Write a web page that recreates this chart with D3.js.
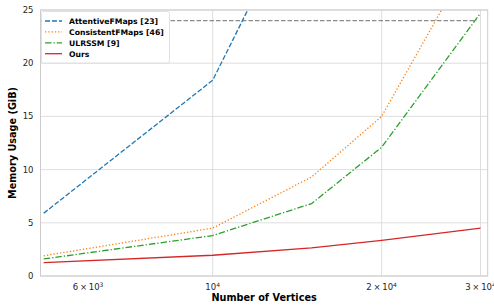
<!doctype html>
<html lang="en">
<head>
  <meta charset="utf-8">
  <title>Memory usage</title>
  <style>
  body { margin: 0; background: #fff; }
  svg { display: block; font-family: "DejaVu Sans", sans-serif; }
  .grid line { stroke: #d5d5d5; stroke-width: 0.8; }
  .tick-label { fill: #262626; font-size: 8.5px; }
  .axis-title { fill: #000; font-size: 9.7px; font-weight: bold; }
  .legend text { fill: #000; font-size: 7.7px; font-weight: bold; }
  </style>
</head>
<body>
  <div id="chart"></div>
  <script src="https://cdn.jsdelivr.net/npm/d3@7"></script>
  <script>
    // data
    var vertices = [5000, 10000, 15000, 20000, 30000];
    var attentive = [5.9, 18.4, 37.0];
    var consistent = [1.9, 4.5, 9.3, 15.0, 31.5];
    var ulrssm = [1.6, 3.8, 6.8, 12.1, 24.7];
    var ours = [1.25, 1.95, 2.65, 3.35, 4.5];
    var oomLevel = 24;
    var yTicks = [0, 5, 10, 15, 20, 25];
    var xGrid = [10000, 20000, 30000];
    var xLabels = [[6, 3], [1, 4], [2, 4], [3, 4]]; // mantissa, exponent

    (function() {
      var width = 494, height = 305;
      var pl = 40.5, pr = 487.7, pt = 10, pb = 276;

      var x = d3.scaleLog().domain([4935, 30900]).range([pl, pr]);
      var y = d3.scaleLinear().domain([0, 25]).range([pb, pt]);

      var svg = d3.select("#chart").append("svg")
          .attr("width", width)
          .attr("height", height);

      svg.append("clipPath").attr("id", "plot-clip")
        .append("rect")
          .attr("x", pl).attr("y", pt)
          .attr("width", pr - pl).attr("height", pb - pt);

      // gridlines
      var grid = svg.append("g").attr("class", "grid");
      grid.selectAll(".gy").data(yTicks).enter().append("line")
          .attr("x1", pl).attr("x2", pr)
          .attr("y1", function(d) { return y(d); })
          .attr("y2", function(d) { return y(d); });
      grid.selectAll(".gx").data(xGrid).enter().append("line")
          .attr("y1", pt).attr("y2", pb)
          .attr("x1", function(d) { return x(d); })
          .attr("x2", function(d) { return x(d); });

      // frame
      svg.append("rect")
          .attr("x", pl).attr("y", pt)
          .attr("width", pr - pl).attr("height", pb - pt)
          .attr("fill", "none").attr("stroke", "#cccccc").attr("stroke-width", 1);

      // y tick labels
      svg.selectAll(".ylab").data(yTicks).enter().append("text")
          .attr("class", "tick-label")
          .attr("x", pl - 7)
          .attr("y", function(d) { return y(d) + 3; })
          .attr("text-anchor", "end")
          .text(function(d) { return d; });

      // x tick labels with superscripts
      xLabels.forEach(function(l) {
        var v = l[0] * Math.pow(10, l[1]);
        var t = svg.append("text")
            .attr("class", "tick-label")
            .attr("x", x(v))
            .attr("y", pb + 14)
            .attr("text-anchor", "middle");
        t.append("tspan").text(l[0] === 1 ? "10" : l[0] + "\u2009\u00d7\u200910");
        t.append("tspan").attr("dy", -3.5).attr("font-size", "6px").text(l[1]);
      });

      // axis titles
      svg.append("text").attr("class", "axis-title")
          .attr("x", (pl + pr) / 2).attr("y", pb + 24.5)
          .attr("text-anchor", "middle")
          .text("Number of Vertices");
      svg.append("text").attr("class", "axis-title")
          .attr("transform", "translate(16," + ((pt + pb) / 2) + ") rotate(-90)")
          .attr("text-anchor", "middle")
          .text("Memory Usage (GiB)");

      var plot = svg.append("g").attr("clip-path", "url(#plot-clip)");

      // out-of-memory level
      plot.append("line")
          .attr("x1", pl).attr("x2", x(29500))
          .attr("y1", y(oomLevel)).attr("y2", y(oomLevel))
          .attr("stroke", "#8c8c8c").attr("stroke-width", 1.3)
          .attr("stroke-dasharray", "4.5,2");

      var series = [
        { name: "AttentiveFMaps [23]", values: attentive, color: "#1f77b4", dash: "5,2" },
        { name: "ConsistentFMaps [46]", values: consistent, color: "#ff7f0e", dash: "1.3,2" },
        { name: "ULRSSM [9]", values: ulrssm, color: "#2ca02c", dash: "6.5,2,1.3,2" },
        { name: "Ours", values: ours, color: "#d62728", dash: null }
      ];

      var line = d3.line()
          .x(function(d) { return x(d[0]); })
          .y(function(d) { return y(d[1]); });

      series.forEach(function(s) {
        var pts = s.values.map(function(v, i) { return [vertices[i], v]; });
        plot.append("path")
            .attr("d", line(pts))
            .attr("fill", "none")
            .attr("stroke", s.color)
            .attr("stroke-width", 1.3)
            .attr("stroke-dasharray", s.dash);
      });

      // legend
      var legend = svg.append("g").attr("class", "legend");
      legend.append("rect")
          .attr("x", 41.5).attr("y", 11.5)
          .attr("width", 128).attr("height", 51.5)
          .attr("rx", 2)
          .attr("fill", "#fff").attr("stroke", "#d9d9d9").attr("stroke-width", 0.8);
      series.forEach(function(s, i) {
        var ly = 21 + i * 10.9;
        legend.append("line")
            .attr("x1", 45).attr("x2", 62)
            .attr("y1", ly).attr("y2", ly)
            .attr("stroke", s.color).attr("stroke-width", 1.3)
            .attr("stroke-dasharray", s.dash);
        legend.append("text")
            .attr("x", 69).attr("y", ly + 3)
            .text(s.name);
      });
    })();
  </script>
</body>
</html>
